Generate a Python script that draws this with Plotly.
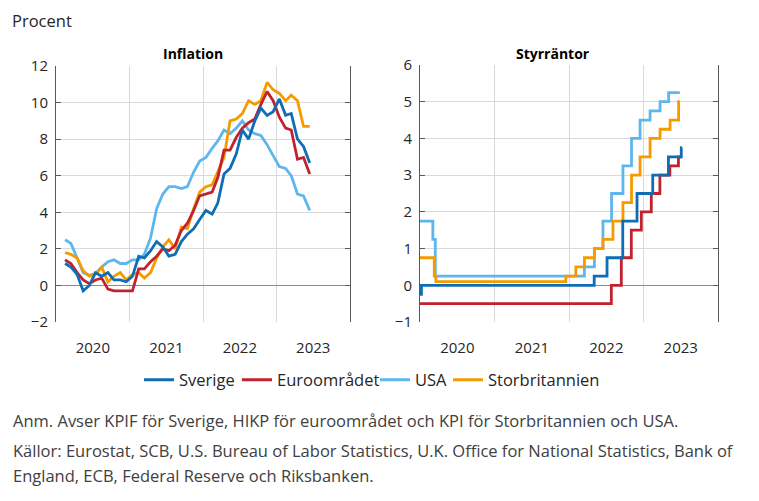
import pandas as pd
import plotly.graph_objects as go

# monthly inflation, Jan 2020 - May 2023 (percent, annual change)
infl_start = "2020-01-15"
sverige_kpif = [1.2, 1.0, 0.6, -0.3, 0.0, 0.7, 0.5, 0.7, 0.3, 0.3, 0.2, 0.5,
                1.6, 1.5, 1.9, 2.4, 2.1, 1.6, 1.7, 2.4, 2.8, 3.1, 3.6, 4.1,
                3.9, 4.5, 6.1, 6.4, 7.2, 8.5, 8.0, 9.0, 9.7, 9.3, 9.5, 10.2,
                9.3, 9.4, 8.0, 7.6, 6.7]
euro_hikp = [1.4, 1.2, 0.7, 0.3, 0.1, 0.3, 0.4, -0.2, -0.3, -0.3, -0.3, -0.3,
             0.9, 0.9, 1.3, 1.6, 2.0, 1.9, 2.2, 3.0, 3.4, 4.1, 4.9, 5.0,
             5.1, 5.9, 7.4, 7.4, 8.1, 8.6, 8.9, 9.1, 9.9, 10.6, 10.1, 9.2,
             8.6, 8.5, 6.9, 7.0, 6.1]
usa_kpi = [2.5, 2.3, 1.5, 0.7, 0.55, 0.65, 1.0, 1.3, 1.4, 1.2, 1.2, 1.4,
           1.4, 1.7, 2.6, 4.2, 5.0, 5.4, 5.4, 5.3, 5.4, 6.2, 6.8, 7.0,
           7.5, 7.9, 8.5, 8.3, 8.6, 9.0, 8.5, 8.3, 8.2, 7.7, 7.1, 6.5,
           6.4, 6.0, 5.0, 4.9, 4.1]
uk_kpi = [1.8, 1.7, 1.5, 0.8, 0.5, 0.6, 1.0, 0.2, 0.5, 0.7, 0.3, 0.6,
          0.7, 0.4, 0.7, 1.5, 2.1, 2.5, 2.0, 3.2, 3.1, 4.2, 5.1, 5.4,
          5.5, 6.2, 7.0, 9.0, 9.1, 9.4, 10.1, 9.9, 10.1, 11.1, 10.7, 10.5,
          10.1, 10.4, 10.1, 8.7, 8.7]

# policy rates: change dates and level from that date
se_dates = ["2020-01-01", "2020-01-08", "2022-05-04", "2022-07-06", "2022-09-21",
            "2022-11-30", "2023-02-15", "2023-05-03", "2023-07-05", "2023-07-08"]
se_rates = [-0.25, 0.0, 0.25, 0.75, 1.75, 2.5, 3.0, 3.5, 3.75, 3.75]
ea_dates = ["2020-01-01", "2022-07-27", "2022-09-14", "2022-11-02", "2022-12-21",
            "2023-02-08", "2023-03-22", "2023-05-10", "2023-06-21", "2023-07-08"]
ea_rates = [-0.5, 0.0, 0.75, 1.5, 2.0, 2.5, 3.0, 3.25, 3.5, 3.5]
us_dates = ["2020-01-01", "2020-03-04", "2020-03-16", "2022-03-17", "2022-05-05",
            "2022-06-16", "2022-07-28", "2022-09-22", "2022-11-03", "2022-12-15",
            "2023-02-02", "2023-03-23", "2023-05-04", "2023-06-28"]
us_rates = [1.75, 1.25, 0.25, 0.5, 1.0, 1.75, 2.5, 3.25, 4.0, 4.5, 4.75, 5.0, 5.25, 5.25]
uk_dates = ["2020-01-01", "2020-03-11", "2020-03-19", "2021-12-16", "2022-02-03",
            "2022-03-17", "2022-05-05", "2022-06-16", "2022-08-04", "2022-09-22",
            "2022-11-03", "2022-12-15", "2023-02-02", "2023-03-23", "2023-05-11",
            "2023-06-22", "2023-06-28"]
uk_rates = [0.75, 0.25, 0.1, 0.25, 0.5, 0.75, 1.0, 1.25, 1.75, 2.25, 3.0, 3.5,
            4.0, 4.25, 4.5, 5.0, 5.0]

names = ["Sverige", "Euroområdet", "USA", "Storbritannien"]
colors = {"Sverige": "#0F6DB3", "Euroområdet": "#C2212E",
          "USA": "#5FB6EE", "Storbritannien": "#F59B00"}

W, H = 759, 501
PAGE = 8  # the html body margin shifts the figure by this much
FONT = "Open Sans"
TXT = "#262626"

months = pd.date_range(infl_start, periods=len(sverige_kpif), freq="MS") + pd.Timedelta(days=14)

infl = {"Sverige": sverige_kpif, "Euroområdet": euro_hikp, "USA": usa_kpi, "Storbritannien": uk_kpi}
rates = {"Sverige": (se_dates, se_rates), "Euroområdet": (ea_dates, ea_rates),
         "USA": (us_dates, us_rates), "Storbritannien": (uk_dates, uk_rates)}
# one legend box per entry so the spacing can follow the original
leg = {"Sverige": ("legend", 139), "Euroområdet": ("legend2", 237),
       "USA": ("legend3", 375), "Storbritannien": ("legend4", 448)}


def px_x(v):
    return (v - PAGE) / W


def px_y(v):
    return 1 - (v - PAGE) / H


fig = go.Figure()
for n in ["USA", "Storbritannien", "Euroområdet", "Sverige"]:
    fig.add_trace(go.Scatter(x=months, y=infl[n], mode="lines", name=n,
                             line=dict(color=colors[n], width=2.8),
                             legend=leg[n][0], xaxis="x", yaxis="y"))
for n in ["USA", "Storbritannien", "Euroområdet", "Sverige"]:
    d, r = rates[n]
    fig.add_trace(go.Scatter(x=pd.to_datetime(d), y=r, mode="lines", name=n,
                             line=dict(color=colors[n], width=2.8, shape="hv"),
                             showlegend=False, xaxis="x2", yaxis="y2"))

xax = dict(type="date", range=["2020-01-01", "2024-01-01"], dtick="M12", tick0="2020-01-01",
           tickformat="%Y", ticklabelmode="period", showgrid=True, gridcolor="#D9D9D9",
           gridwidth=1, showline=False, ticks="", zeroline=False, ticklabelstandoff=15,
           automargin=False, tickfont=dict(size=15, color=TXT, family=FONT))
yax = dict(showgrid=True, gridcolor="#D9D9D9", gridwidth=1, zeroline=True,
           zerolinecolor="#8C8C8C", zerolinewidth=1, showline=True, linecolor="#595959",
           linewidth=1, mirror="ticks", ticks="inside", ticklen=5, tickcolor="#595959",
           automargin=False, tickfont=dict(size=15, color=TXT, family=FONT),
           ticklabelstandoff=4)

layout_legends = {}
for n, (key, x0) in leg.items():
    layout_legends[key] = dict(orientation="h", x=px_x(x0), y=px_y(380), xanchor="left",
                               yanchor="middle", font=dict(size=16.5, color=TXT, family=FONT),
                               itemwidth=30, bgcolor="rgba(0,0,0,0)")

fig.update_layout(
    width=W, height=H,
    margin=dict(l=0, r=0, t=0, b=0, autoexpand=False),
    paper_bgcolor="white", plot_bgcolor="white",
    font=dict(family=FONT, color=TXT),
    xaxis=dict(xax, domain=[px_x(56), px_x(350)], anchor="y"),
    yaxis=dict(yax, domain=[px_y(322), px_y(66)], range=[-2, 12], dtick=2, anchor="x"),
    xaxis2=dict(xax, domain=[px_x(420), px_x(718)], anchor="y2"),
    yaxis2=dict(yax, domain=[px_y(322), px_y(65)], range=[-1, 6], dtick=1, anchor="x2"),
    **layout_legends,
)

# unit label, kept just inside the top edge
fig.add_annotation(text="Procent", x=px_x(11), y=1, xref="paper", yref="paper",
                   xanchor="left", yanchor="top", showarrow=False, borderpad=0,
                   font=dict(size=16.5, color=TXT, family=FONT))

notes = [
    ("Anm. Avser KPIF för Sverige, HIKP för euroområdet och KPI för Storbritannien och USA.", 420),
    ("Källor: Eurostat, SCB, U.S. Bureau of Labor Statistics, U.K. Office for National Statistics, Bank of", 450),
    ("England, ECB, Federal Reserve och Riksbanken.", 475),
]
for text, y in notes:
    fig.add_annotation(text=text, x=px_x(11), y=px_y(y), xref="paper", yref="paper",
                       xanchor="left", yanchor="middle", showarrow=False,
                       font=dict(size=16.5, color="#404040", family=FONT))

for text, x in [("<b>Inflation</b>", 193), ("<b>Styrräntor</b>", 553)]:
    fig.add_annotation(text=text, x=px_x(x), y=px_y(53), xref="paper", yref="paper",
                       xanchor="center", yanchor="middle", showarrow=False,
                       font=dict(size=14, color="#000000", family=FONT))

fig.write_html("out.html")
